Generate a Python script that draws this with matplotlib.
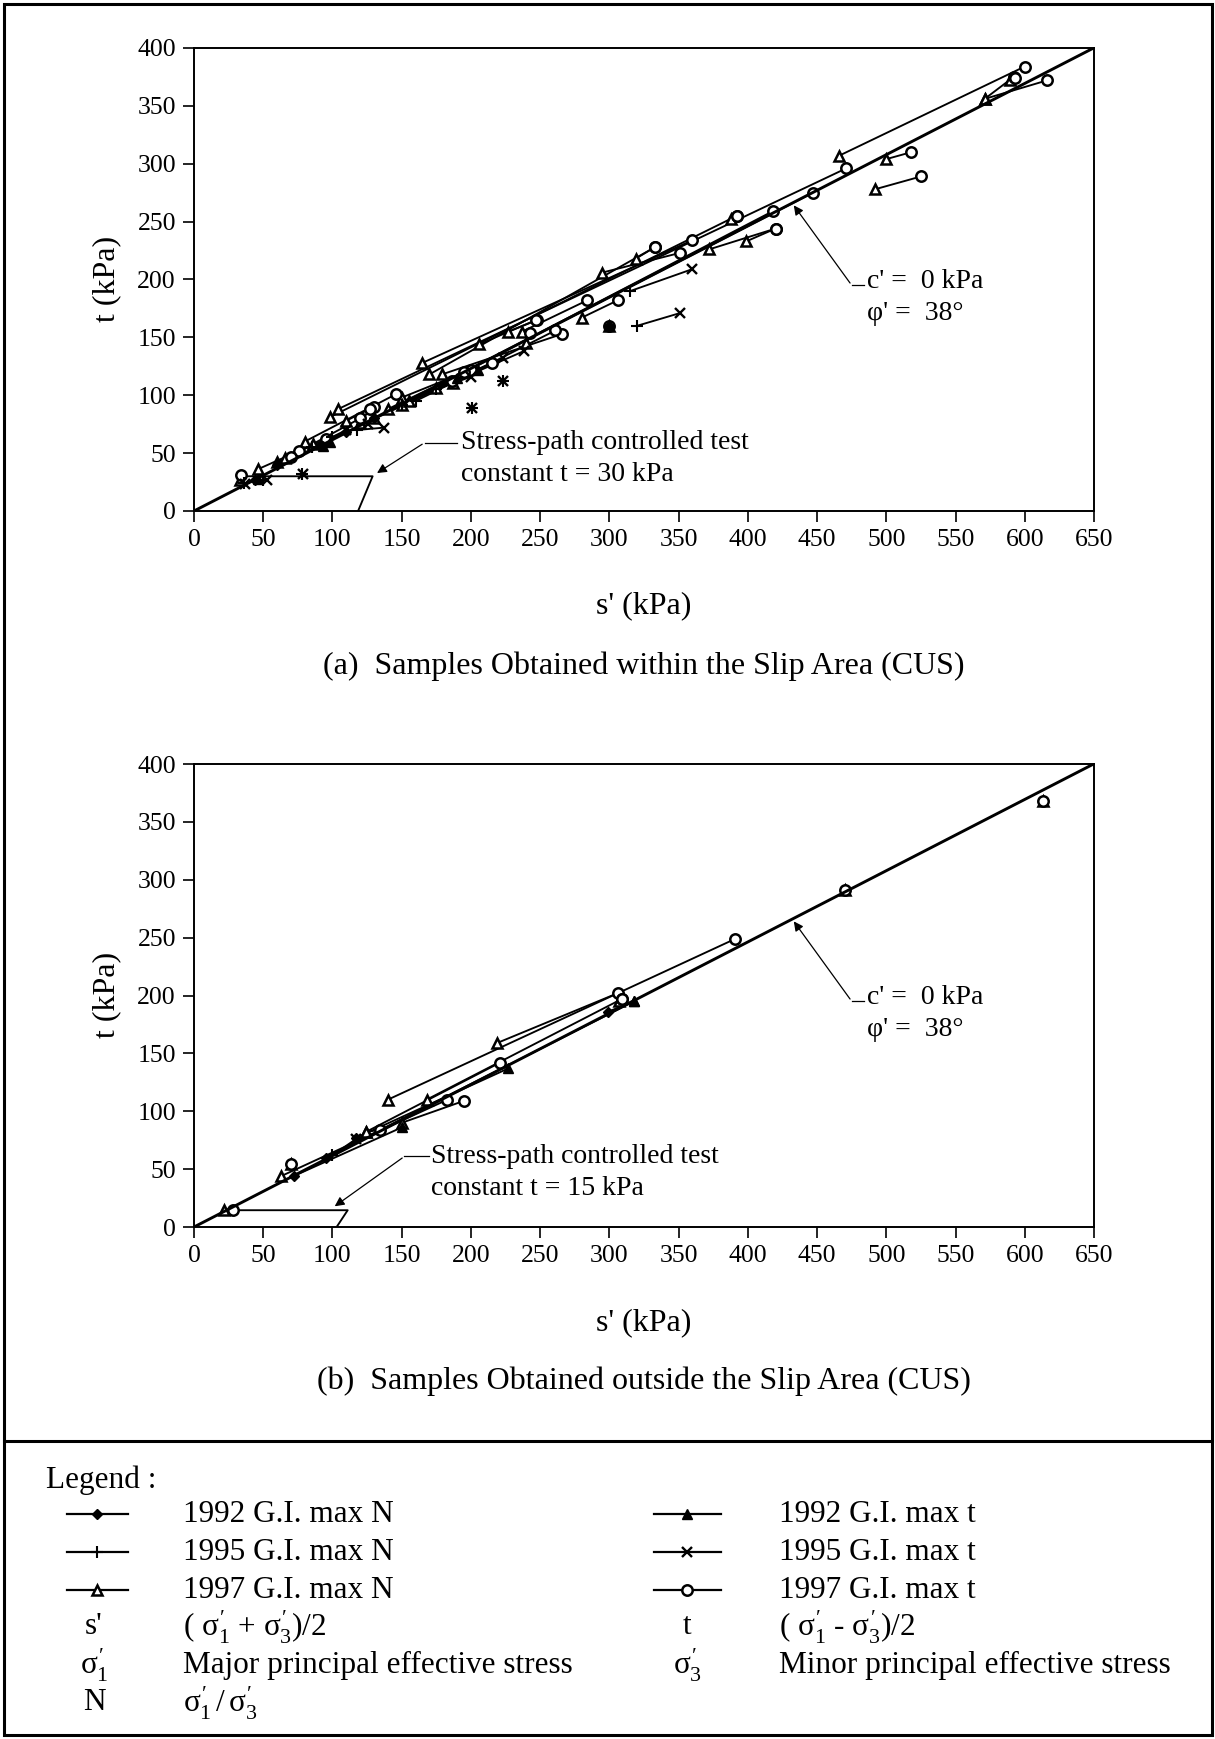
import numpy as np
import matplotlib
matplotlib.use("Agg")
import matplotlib.pyplot as plt
from matplotlib.lines import Line2D
from matplotlib.patches import Rectangle

W, H = 1215, 1739

plt.rcParams["font.family"] = ["Liberation Serif", "DejaVu Serif"]
plt.rcParams["mathtext.fontset"] = "custom"
plt.rcParams["mathtext.rm"] = "Liberation Serif"
plt.rcParams["mathtext.it"] = "Liberation Serif"

# failure envelope c' = 0, phi' = 38 deg  (t = s' sin phi')
phi_deg = 38
s_env = [0, 650]

# ---- (a) samples within the slip area: max N point -> max t point ----
a97_sN = [104, 98, 165, 170, 466, 295, 319, 571, 571, 500, 492, 399, 372, 388, 280, 237, 227, 179, 187,
          240, 206, 46, 66, 80, 110, 150, 33, 589, 300, 130, 150, 86, 140, 155, 60, 120, 175]
a97_tN = [88, 81, 128, 118, 307, 206, 218, 356, 356, 304, 278, 233, 226, 252, 167, 155, 155, 118, 111,
          145, 144, 36, 46, 60, 78, 98, 27, 372, 160, 80, 92, 58, 88, 95, 42, 76, 106]
a97_sT = [471, 392, 360, 333, 600, 351, 333, 616, 592, 518, 525, 420, 420, 392, 306, 284, 248, 266, 261,
          243, 247, 76, 95, 146, 130, 200, 34, 593, 300, 447, 418, 120, 195, 215, 70, 127, 186]
a97_tT = [296, 255, 234, 228, 384, 223, 228, 372, 375, 310, 289, 244, 244, 255, 182, 182, 165, 153, 156,
          154, 165, 52, 62, 101, 90, 122, 31, 374, 160, 275, 259, 80, 120, 128, 47, 88, 112]

a95_sN = [315, 320, 150, 160, 118, 100, 201, 223, 36, 50, 78, 175, 85]
a95_tN = [190, 160, 92, 95, 70, 64, 89, 112, 24, 27, 32, 105, 55]
a95_sT = [360, 351, 238, 223, 137, 126, 201, 223, 37, 53, 79, 200, 110]
a95_tT = [209, 171, 138, 132, 72, 75, 89, 112, 23, 27, 32, 116, 70]

a92_sN = [92, 60, 110, 130, 44, 300]
a92_tN = [56, 40, 68, 80, 27, 160]
a92_sT = [93, 98, 205, 190, 46, 300]
a92_tT = [56, 60, 122, 115, 28, 160]

a_path_s = [33, 129, 118.5]
a_path_t = [30, 30, 0]

# ---- (b) samples outside the slip area ----
b97_sN = [140, 219, 168, 150, 63, 124, 22, 470, 613, 70, 307, 124]
b97_tN = [110, 159, 110, 90, 44, 82, 15, 291, 368, 54, 195, 82]
b97_sT = [391, 306, 309, 195, 183, 134, 28, 470, 613, 70, 309, 221]
b97_tT = [249, 202, 197, 109, 110, 84, 15, 291, 368, 54, 197, 142]

b95_sN = [100]
b95_tN = [62]
b95_sT = [117]
b95_tT = [76]

b92_sN = [95, 299, 72, 117]
b92_tN = [60, 186, 44, 77]
b92_sT = [318, 318, 150, 227]
b92_tT = [195, 195, 86, 137]

b_path_s = [28, 111, 103]
b_path_t = [14.5, 14.5, 0]

x_ticks = list(range(0, 651, 50))
y_ticks = list(range(0, 401, 50))

STYLE = {
    "97N": dict(marker="^", ms=7.5, mfc="white", mec="black", mew=1.8),
    "97T": dict(marker="o", ms=7.5, mfc="white", mec="black", mew=1.8),
    "95N": dict(marker="+", ms=9, mec="black", mew=1.5),
    "95T": dict(marker="x", ms=7.5, mec="black", mew=1.7),
    "92N": dict(marker="D", ms=5, mfc="black", mec="black", mew=1),
    "92T": dict(marker="^", ms=7.5, mfc="black", mec="black", mew=1),
}


def fx(px):
    return px / W


def fy(py):
    return 1 - py / H


def draw_paths(ax, sN, tN, sT, tT, kN, kT):
    for a, b, c, d in zip(sN, tN, sT, tT):
        ax.plot([a, c], [b, d], color="black", lw=1.35, zorder=3)
    ax.plot(sN, tN, ls="none", zorder=4, **STYLE[kN])
    ax.plot(sT, tT, ls="none", zorder=4, **STYLE[kT])


def setup_axes(ax):
    ax.set_xlim(0, 650)
    ax.set_ylim(0, 400)
    ax.set_xticks(x_ticks)
    ax.set_yticks(y_ticks)
    ax.tick_params(direction="out", length=8, width=1.2, labelsize=18.5, pad=5)
    for sp in ax.spines.values():
        sp.set_linewidth(1.4)
    t_env = [s * np.sin(np.radians(phi_deg)) for s in s_env]
    ax.plot(s_env, t_env, color="black", lw=2.1, zorder=5)
    # envelope annotation
    ax.plot([475, 484], [195, 195], color="black", lw=0.9)
    ax.annotate("", xy=(432, 266), xytext=(475, 195),
                arrowprops=dict(arrowstyle="-|>", color="black", lw=0.9, mutation_scale=14))
    ax.text(486, 198, "c' =  0 kPa", fontsize=20, va="center", ha="left")
    ax.text(486, 171, "\u03c6' =  38\u00b0", fontsize=20, va="center", ha="left")


fig = plt.figure(figsize=(W / 100, H / 100), dpi=100)

ax1 = fig.add_axes([fx(194), fy(511), 900 / W, 463 / H])
ax2 = fig.add_axes([fx(194), fy(1227), 900 / W, 463 / H])

for ax in (ax1, ax2):
    setup_axes(ax)

draw_paths(ax1, a97_sN, a97_tN, a97_sT, a97_tT, "97N", "97T")
draw_paths(ax1, a95_sN, a95_tN, a95_sT, a95_tT, "95N", "95T")
draw_paths(ax1, a92_sN, a92_tN, a92_sT, a92_tT, "92N", "92T")
ax1.plot(a_path_s, a_path_t, color="black", lw=1.35)
ax1.plot([166.5, 190], [59, 59], color="black", lw=0.9)
ax1.annotate("", xy=(130.5, 31.5), xytext=(166.5, 59),
             arrowprops=dict(arrowstyle="-|>", color="black", lw=0.9, mutation_scale=14))
ax1.text(193, 59.5, "Stress-path controlled test", fontsize=20, va="center")
ax1.text(193, 31.5, "constant t = 30 kPa", fontsize=20, va="center")

draw_paths(ax2, b97_sN, b97_tN, b97_sT, b97_tT, "97N", "97T")
draw_paths(ax2, b95_sN, b95_tN, b95_sT, b95_tT, "95N", "95T")
draw_paths(ax2, b92_sN, b92_tN, b92_sT, b92_tT, "92N", "92T")
ax2.plot(b_path_s, b_path_t, color="black", lw=1.35)
ax2.plot([152, 170], [61, 61], color="black", lw=0.9)
ax2.annotate("", xy=(100, 16.5), xytext=(152, 61),
             arrowprops=dict(arrowstyle="-|>", color="black", lw=0.9, mutation_scale=14))
ax2.text(171.5, 61, "Stress-path controlled test", fontsize=20, va="center")
ax2.text(171.5, 33.4, "constant t = 15 kPa", fontsize=20, va="center")

# axis labels and captions
for yl, xl, cap, text in [(279, 606, 666, "(a)  Samples Obtained within the Slip Area (CUS)"),
                          (995, 1323, 1381, "(b)  Samples Obtained outside the Slip Area (CUS)")]:
    fig.text(fx(107), fy(yl), "t (kPa)", rotation=90, fontsize=23, ha="center", va="center")
    fig.text(fx(644), fy(xl), "s' (kPa)", fontsize=23, ha="center", va="center")
    fig.text(fx(644), fy(cap), text, fontsize=23, ha="center", va="center")

# outer frame and divider
fig.add_artist(Rectangle((fx(4), fy(1735)), (1208) / W, (1731) / H, transform=fig.transFigure,
                         fill=False, lw=2.2, ec="black"))
fig.add_artist(Line2D([fx(4), fx(1212)], [fy(1441), fy(1441)], transform=fig.transFigure,
                      color="black", lw=2.2))

# legend block
LFS = 22.5
fig.text(fx(46), fy(1480), "Legend :", fontsize=LFS, va="center")
rows = [1514, 1552, 1590, 1627, 1665, 1703]
left_items = [("92N", "1992 G.I. max N"), ("95N", "1995 G.I. max N"), ("97N", "1997 G.I. max N")]
right_items = [("92T", "1992 G.I. max t"), ("95T", "1995 G.I. max t"), ("97T", "1997 G.I. max t")]
for y, (k, lab) in zip(rows, left_items):
    st = dict(STYLE[k])
    fig.add_artist(Line2D([fx(67), fx(128)], [fy(y), fy(y)], transform=fig.transFigure, color="black", lw=1.6))
    fig.add_artist(Line2D([fx(97)], [fy(y)], transform=fig.transFigure, ls="none", **st))
    fig.text(fx(183), fy(y), lab, fontsize=LFS, va="center")
for y, (k, lab) in zip(rows, right_items):
    st = dict(STYLE[k])
    fig.add_artist(Line2D([fx(654), fx(721)], [fy(y), fy(y)], transform=fig.transFigure, color="black", lw=1.6))
    fig.add_artist(Line2D([fx(687)], [fy(y)], transform=fig.transFigure, ls="none", **st))
    fig.text(fx(779), fy(y), lab, fontsize=LFS, va="center")

sym_rows = [
    (94, 183, rows[3], "s'", r"( $\sigma_1^{\prime}$ + $\sigma_3^{\prime}$)/2"),
    (687, 779, rows[3], "t", r"( $\sigma_1^{\prime}$ - $\sigma_3^{\prime}$)/2"),
    (94, 183, rows[4], r"$\sigma_1^{\prime}$", "Major principal effective stress"),
    (687, 779, rows[4], r"$\sigma_3^{\prime}$", "Minor principal effective stress"),
    (94, 183, rows[5], "N", r"$\sigma_1^{\prime}\,/\,\sigma_3^{\prime}$"),
]
for xs, xt, y, sym, desc in sym_rows:
    fig.text(fx(xs), fy(y), sym, fontsize=LFS, ha="center", va="center")
    fig.text(fx(xt), fy(y), desc, fontsize=LFS, va="center")

fig.savefig("out.png", dpi=100)
